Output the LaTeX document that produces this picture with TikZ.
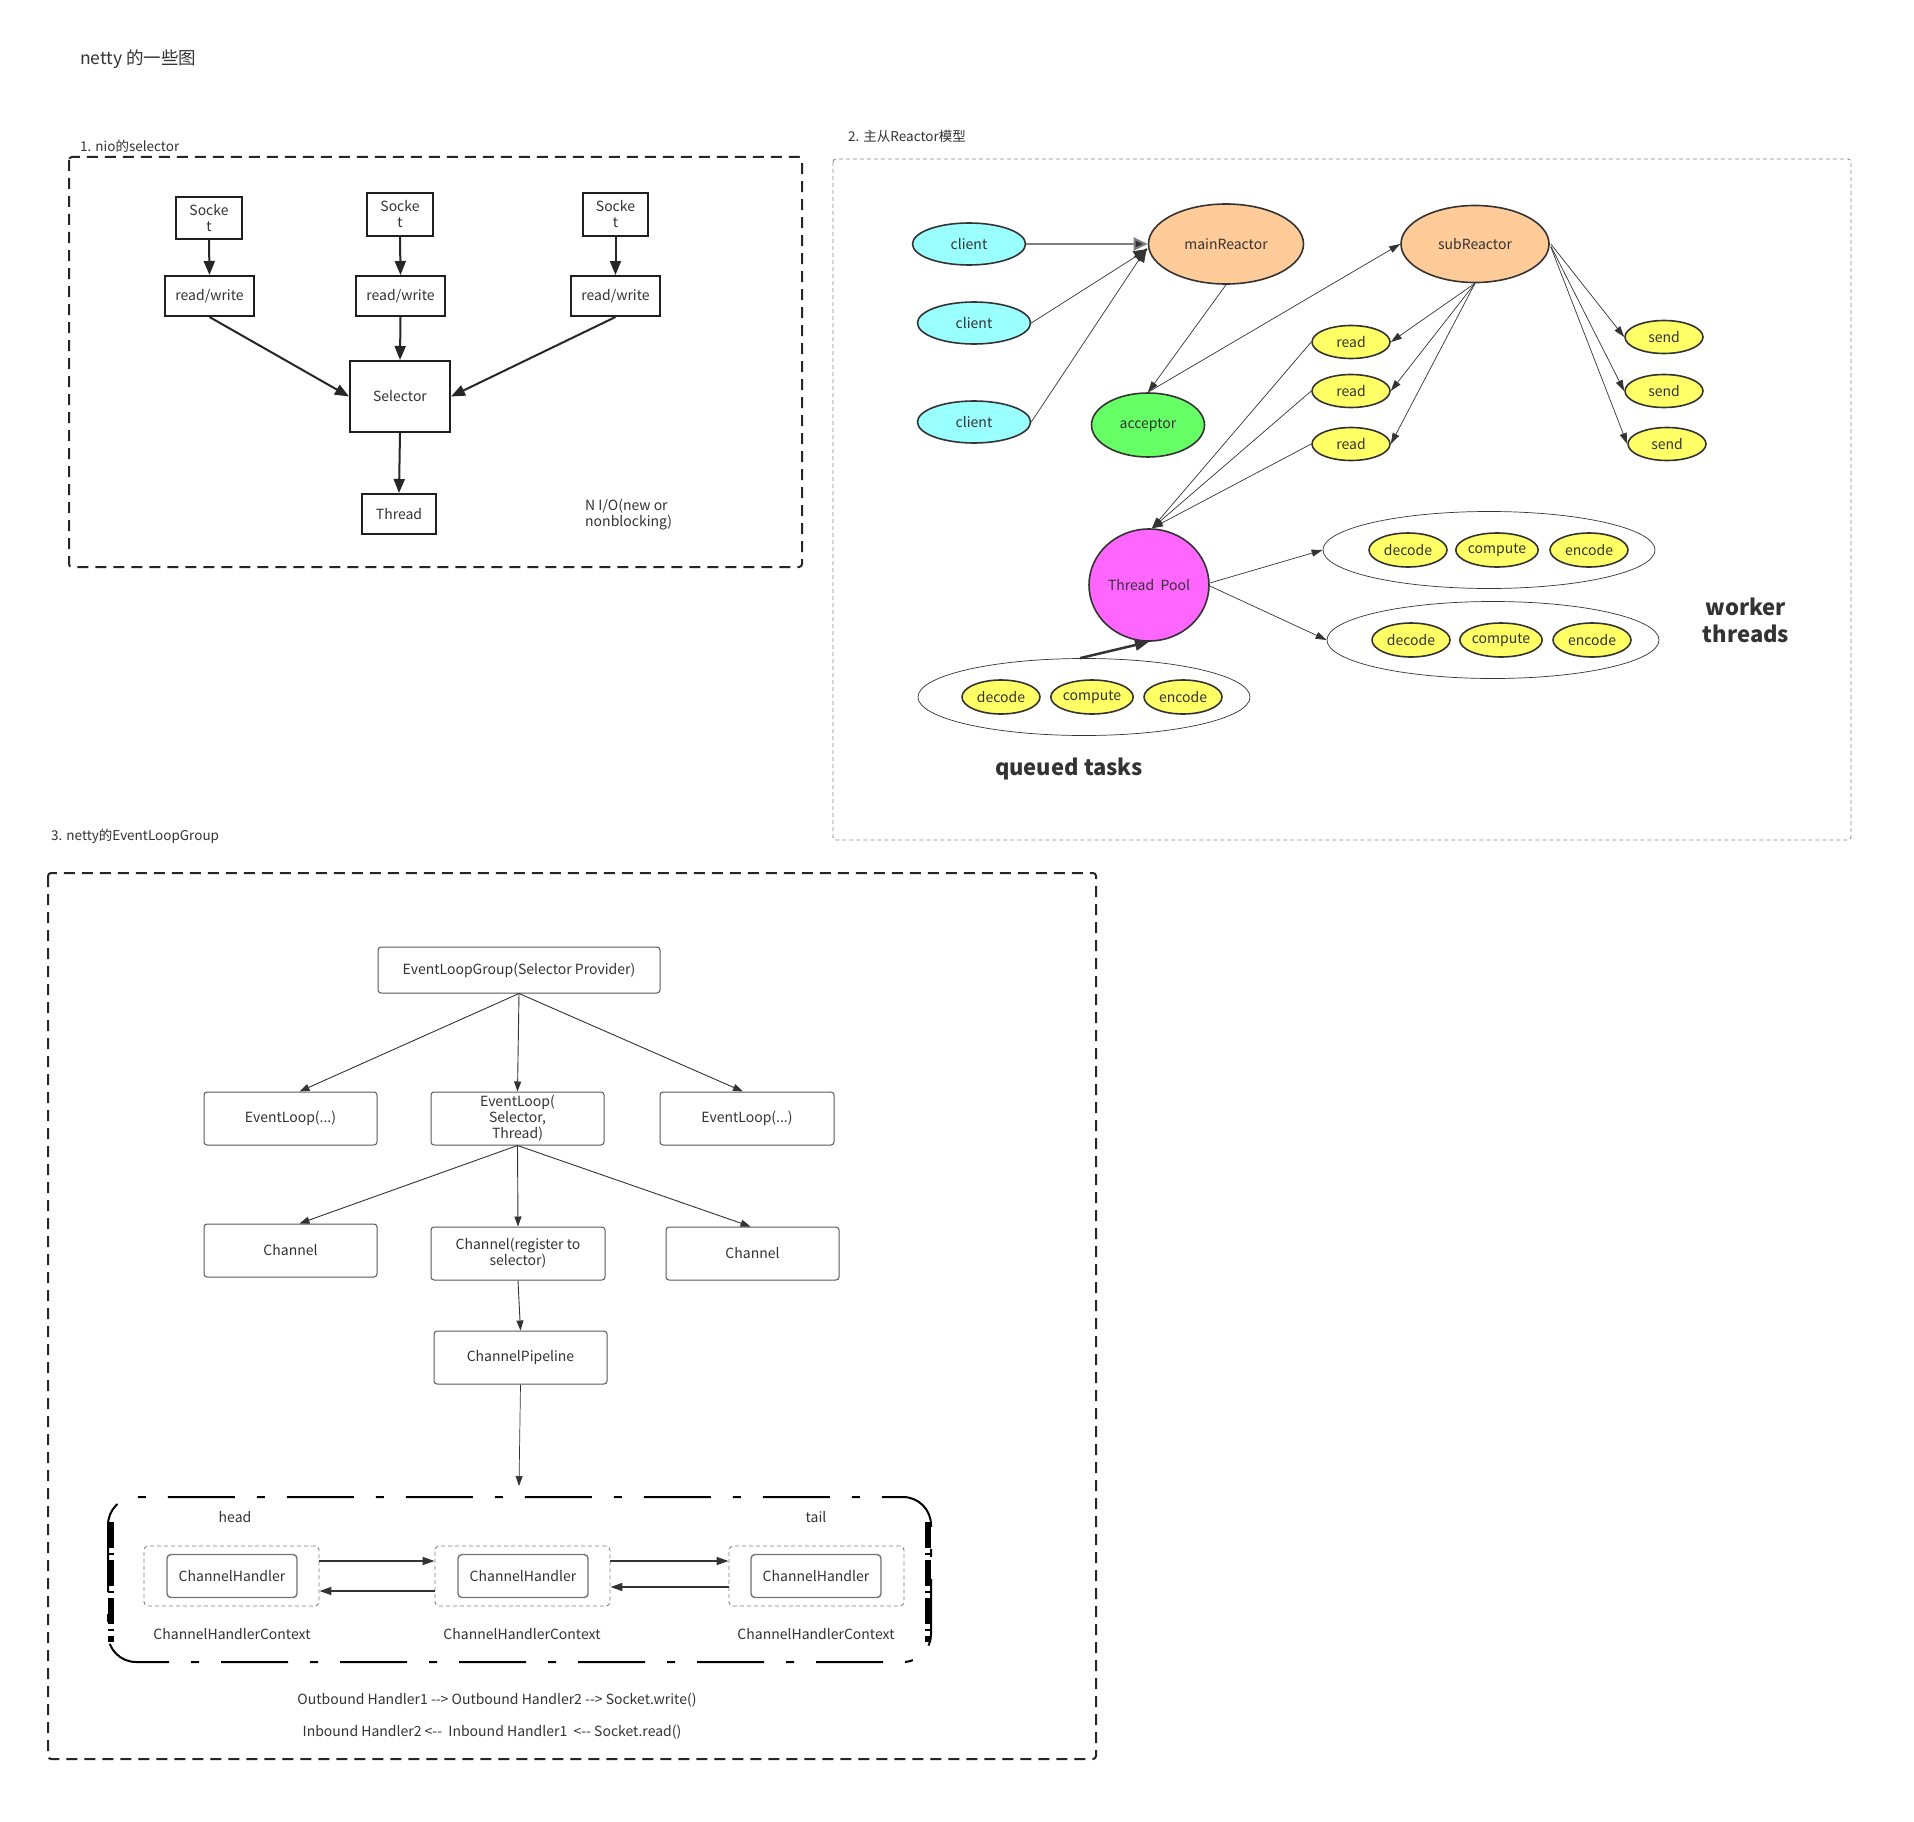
\documentclass[tikz,border=0pt]{standalone}
\usepackage{fontspec}
\setmainfont{Noto Sans CJK SC}
\usetikzlibrary{arrows.meta,shapes.geometric}
\definecolor{txt}{HTML}{333333}
\definecolor{cyanf}{HTML}{99FFFF}
\definecolor{peach}{HTML}{FFCC99}
\definecolor{greenf}{HTML}{66FF66}
\definecolor{magf}{HTML}{FF66FF}
\definecolor{yelf}{HTML}{FFFF66}
\begin{document}
\begin{tikzpicture}[x=1pt,y=-1pt,font=\fontsize{14}{16}\selectfont,text=txt,
  sbox/.style={draw=black!88,line width=2pt,inner sep=0pt,align=center},
  arrA/.style={line width=2pt,draw=black!85,-{Triangle[length=14pt,width=11pt]}},
  ell/.style={ellipse,draw=txt,line width=1.6pt,inner sep=0pt},
  cli/.style={ell,fill=cyanf,minimum width=113pt,minimum height=42pt},
  rd/.style={ell,fill=yelf,minimum width=78pt,minimum height=33pt},
  task/.style={ell,fill=yelf,minimum width=78pt,minimum height=34pt},
  pool/.style={ellipse,draw=txt,line width=0.7pt,inner sep=0pt,minimum width=332pt,minimum height=77pt},
  arrB/.style={line width=0.7pt,draw=txt,-{Triangle[length=11pt,width=7pt]}},
  gbox/.style={draw=black!65,line width=1pt,rounded corners=3pt,inner sep=0pt,align=center},
  arrC/.style={line width=0.9pt,draw=txt,-{Triangle[length=10pt,width=7pt]}},
  ctxbox/.style={draw=black!50,line width=0.9pt,dash pattern=on 4pt off 3pt,rounded corners=4pt,minimum width=175pt,minimum height=60pt,inner sep=0pt},
  hbox/.style={draw=black!55,line width=1.4pt,rounded corners=4pt,minimum width=130pt,minimum height=43pt,inner sep=0pt},
  arrD/.style={line width=1.6pt,draw=txt,-{Triangle[length=12pt,width=8pt]}},
  lbl/.style={anchor=west,inner sep=0pt,font=\fontsize{13.5}{16}\selectfont}
]
\fill[white] (0,0) rectangle (1914,1822);
\useasboundingbox (0,0) rectangle (1914,1822);

% ---------- titles ----------
\node[anchor=west,inner sep=0pt,font=\fontsize{17.5}{20}\selectfont] (title) at (80,59) {netty 的一些图};
\node[lbl] (t1) at (80,146) {1. nio的selector};
\node[lbl] (t2) at (848,136) {2. 主从Reactor模型};
\node[lbl] (t3) at (51,836) {3. netty的EventLoopGroup};

% ---------- section 1 ----------
\draw[line width=2pt,dash pattern=on 11pt off 7pt,rounded corners=3pt,draw=black!85] (69,157) rectangle (802,567);
\node[sbox,minimum width=66pt,minimum height=42pt] (sk1) at (209,218) {Socke\\t};
\node[sbox,minimum width=66pt,minimum height=43pt] (sk2) at (400,214.5) {Socke\\t};
\node[sbox,minimum width=65pt,minimum height=43pt] (sk3) at (615.5,214.5) {Socke\\t};
\node[sbox,minimum width=89pt,minimum height=40pt] (rw1) at (209.5,296) {read/write};
\node[sbox,minimum width=89pt,minimum height=40pt] (rw2) at (400.5,296) {read/write};
\node[sbox,minimum width=89pt,minimum height=40pt] (rw3) at (615.5,296) {read/write};
\node[sbox,minimum width=100pt,minimum height=71pt] (sel) at (400,396.5) {Selector};
\node[sbox,minimum width=74pt,minimum height=40pt] (thr) at (399,514) {Thread};
\node[anchor=west,align=left,inner sep=0pt] (nio) at (585,515) {N I/O(new or\\nonblocking)};
\draw[arrA] (sk1.south) -- (rw1.north);
\draw[arrA] (sk2.south) -- (rw2.north);
\draw[arrA] (sk3.south) -- (rw3.north);
\draw[arrA] (rw1.south) -- (sel.west);
\draw[arrA] (rw2.south) -- (sel.north);
\draw[arrA] (rw3.south) -- (sel.east);
\draw[arrA] (sel.south) -- (thr.north);

% ---------- section 2 ----------
\draw[line width=0.9pt,draw=black!45,dash pattern=on 4pt off 3pt,rounded corners=3pt] (833,159) rectangle (1851,840);
\node[cli] (c1) at (969,244) {client};
\node[cli] (c2) at (974,323) {client};
\node[cli] (c3) at (974,422) {client};
\node[ell,fill=peach,minimum width=155pt,minimum height=80pt] (mr) at (1226,244) {mainReactor};
\node[ell,fill=peach,minimum width=148pt,minimum height=77pt] (sr) at (1475,244) {subReactor};
\node[ell,fill=greenf,minimum width=113pt,minimum height=64pt] (acc) at (1148,425) {acceptor};
\node[rd] (r1) at (1351,342) {read};
\node[rd] (r2) at (1351,391) {read};
\node[rd] (r3) at (1351,444) {read};
\node[rd] (s1) at (1664,337) {send};
\node[rd] (s2) at (1664,391) {send};
\node[rd] (s3) at (1667,444) {send};
\node[ell,fill=magf,minimum width=120pt,minimum height=112pt] (tp) at (1149,585) {Thread\ \ Pool};
\node[pool] (w1) at (1489,550) {};
\node[pool] (w2) at (1493,640) {};
\node[pool] (q) at (1084,697) {};
\node[task] (w1a) at (1408,550) {decode};
\node[task] (w1b) at (1497,550) {compute};
\node[task] (w1c) at (1589,550) {encode};
\node[task] (w2a) at (1411,640) {decode};
\node[task] (w2b) at (1501,640) {compute};
\node[task] (w2c) at (1592,640) {encode};
\node[task] (qa) at (1001,697) {decode};
\node[task] (qb) at (1092,697) {compute};
\node[task] (qc) at (1183,697) {encode};
\node[align=center,inner sep=0pt,font=\bfseries\fontsize{22}{27}\selectfont] (wt) at (1746,620) {worker\\threads};
\node[inner sep=0pt,font=\bfseries\fontsize{22}{27}\selectfont] (qt) at (1069,769) {queued tasks};

\draw[line width=2pt,draw=black!50,-{Triangle[length=14pt,width=13pt,fill=txt]}] (c1.east) -- (mr.west);
\draw[arrB,-{Triangle[length=14pt,width=12pt]}] (c2.east) -- ([yshift=-5pt]mr.west);
\draw[arrB,-{Triangle[length=14pt,width=12pt]}] (c3.east) -- ([yshift=-4pt,xshift=-1pt]mr.west);
\draw[arrB] (mr.south) -- (acc.north);
\draw[arrB] (acc.north) -- (sr.west);
\draw[arrB] (sr.south) -- (r1.east);
\draw[arrB] (sr.south) -- (r2.east);
\draw[arrB] (sr.south) -- (r3.east);
\draw[arrB] ([xshift=1pt]sr.east) -- (s1.west);
\draw[arrB] ([xshift=1pt,yshift=-2pt]sr.east) -- (s2.west);
\draw[arrB] ([xshift=1pt,yshift=-3pt]sr.east) -- (s3.west);
\draw[arrB] (r1.west) -- ([xshift=3pt]tp.north);
\draw[arrB] (r2.west) -- ([xshift=3pt]tp.north);
\draw[arrB] (r3.west) -- ([xshift=3pt]tp.north);
\draw[arrB] ([yshift=2pt]tp.east) -- (w1.west);
\draw[arrB] ([yshift=-1pt]tp.east) -- (w2.west);
\draw[line width=2.5pt,draw=txt,-{Triangle[length=14pt,width=11pt]}] ([xshift=-4pt]q.north) -- (tp.south);

% ---------- section 3 ----------
\draw[line width=2pt,dash pattern=on 11pt off 7pt,rounded corners=3pt,draw=black!85] (48,873) rectangle (1096,1759);
\node[gbox,minimum width=282pt,minimum height=46pt] (elg) at (519,970) {EventLoopGroup(Selector Provider)};
\node[gbox,minimum width=173pt,minimum height=53pt] (el1) at (290.5,1118.5) {EventLoop(...)};
\node[gbox,minimum width=173pt,minimum height=53pt] (el2) at (517.5,1118.5) {EventLoop(\\Selector,\\Thread)};
\node[gbox,minimum width=174pt,minimum height=53pt] (el3) at (747,1118.5) {EventLoop(...)};
\node[gbox,minimum width=173pt,minimum height=53pt] (ch1) at (290.5,1250.5) {Channel};
\node[gbox,minimum width=174pt,minimum height=53pt] (ch2) at (518,1253.5) {Channel(register to\\selector)};
\node[gbox,minimum width=173pt,minimum height=53pt] (ch3) at (752.5,1253.5) {Channel};
\node[gbox,minimum width=173pt,minimum height=53pt] (pipe) at (520.5,1357.5) {ChannelPipeline};
\coordinate (pend) at (519,1486);
\draw[arrC] (elg.south) -- ([xshift=9pt]el1.north);
\draw[arrC] (elg.south) -- (el2.north);
\draw[arrC] (elg.south) -- ([xshift=-4pt]el3.north);
\draw[arrC] (el2.south) -- ([xshift=9pt]ch1.north);
\draw[arrC] (el2.south) -- (ch2.north);
\draw[arrC] (el2.south) -- ([xshift=-2pt]ch3.north);
\draw[arrC] (ch2.south) -- (pipe.north);
\draw[arrC,line width=0.7pt] (pipe.south) -- (pend);

% pipeline box
\draw[line width=2pt,rounded corners=28pt,dash pattern=on 67pt off 22pt on 8pt off 22pt,draw=black] (108,1497) rectangle (931,1662);
\draw[line width=6pt,dash pattern=on 26pt off 5pt on 2pt off 5pt] (111,1522) -- (111,1642);
\draw[line width=6pt,dash pattern=on 26pt off 5pt on 2pt off 5pt] (928,1522) -- (928,1642);
\node[inner sep=0pt] (head) at (235,1517) {head};
\node[inner sep=0pt] (tail) at (816,1517) {tail};
\node[ctxbox] (x1) at (231.5,1576) {};
\node[ctxbox] (x2) at (522.5,1576) {};
\node[ctxbox] (x3) at (816.5,1576) {};
\node[hbox] (h1) at (232,1576) {ChannelHandler};
\node[hbox] (h2) at (523,1576) {ChannelHandler};
\node[hbox] (h3) at (816,1576) {ChannelHandler};
\node[inner sep=0pt] (cx1) at (232,1634) {ChannelHandlerContext};
\node[inner sep=0pt] (cx2) at (522,1634) {ChannelHandlerContext};
\node[inner sep=0pt] (cx3) at (816,1634) {ChannelHandlerContext};
\draw[arrD] ([yshift=15pt]x1.east) -- ([yshift=15pt]x2.west);
\draw[arrD] ([yshift=-15pt]x2.west) -- ([yshift=-15pt]x1.east);
\draw[arrD] ([yshift=15pt]x2.east) -- ([yshift=15pt]x3.west);
\draw[arrD] ([yshift=-11pt]x3.west) -- ([yshift=-11pt]x2.east);
\node[inner sep=0pt] (ob) at (497,1700) {Outbound Handler1 -{}-> Outbound Handler2 -{}-> Socket.write()};
\node[inner sep=0pt] (ib) at (492,1732) {Inbound Handler2 <-{}-\ \ Inbound Handler1\ \ <-{}- Socket.read()};
\end{tikzpicture}
\end{document}
